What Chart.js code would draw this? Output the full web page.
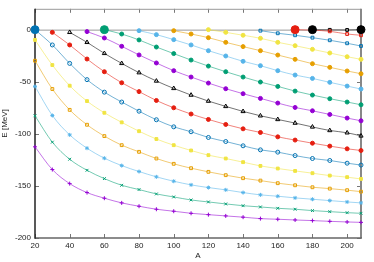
<!DOCTYPE html>
<html>
<head>
<meta charset="utf-8">
<script src="https://cdn.jsdelivr.net/npm/chart.js@4.4.1/dist/chart.umd.min.js"></script>
<style>
  html, body { margin: 0; padding: 0; background: #fff; }
</style>
</head>
<body>
<canvas id="chart" width="374" height="262"></canvas>
<script>
// mass numbers where levels were computed
const massNumbers = [20, 30, 40, 50, 60, 70, 80, 90, 100, 110, 120, 130, 140, 150, 160, 170, 180, 190, 200, 208];

// level energies (MeV), null where the level is not bound yet
const level1 = [-112.5, -134.3, -147.8, -156.4, -161.8, -166.3, -169.5, -172.4, -174.3, -176.3, -177.6, -178.8, -180, -181.4, -182, -182.7, -183.3, -184, -184.6, -185];
const level2 = [-82.7, -108, -124.4, -135, -143, -149.4, -153.5, -157.7, -160.6, -163.5, -165.4, -167.3, -169, -170.2, -171.5, -172.4, -173.7, -174.7, -175.7, -176.3];
const level3 = [-54.5, -82.4, -101, -113.8, -123.4, -130.5, -136.2, -141.3, -145.5, -149, -151.6, -153.8, -156.4, -158.6, -159.9, -161.5, -162.8, -164.1, -165.4, -166.3];
const level4 = [-29.8, -57, -77, -91.3, -102.2, -110.9, -117.3, -123.7, -128.8, -133, -136.5, -139.7, -142.6, -144.9, -147.4, -149.4, -151.3, -152.6, -154.1, -155.5];
const level5 = [-9.9, -34, -53.8, -68.6, -79.8, -89, -97.5, -105, -110.9, -116, -120.5, -123.7, -127.2, -130.8, -133.3, -135.6, -137.8, -140.1, -141.6, -143.3];
const level6 = [0, -14.7, -32.4, -48, -60, -69.5, -78.3, -86.5, -93.3, -98, -103.5, -107.4, -111.5, -115.4, -117.6, -120.9, -123.7, -125.6, -128.2, -130];
const level7 = [null, -2.6, -14.7, -28.2, -40.4, -51, -59.5, -68, -75, -81, -86.2, -91, -95.2, -98.7, -102.9, -106, -109, -111.8, -114.4, -116];
const level8 = [null, null, -2.6, -12.2, -22.8, -32.4, -41.3, -49.3, -56.4, -62.8, -68.6, -73.7, -78.5, -82.7, -86.2, -89.7, -93.4, -96.8, -99, -102];
const level9 = [null, null, null, -1.9, -8, -16, -24.3, -32, -39.4, -45.5, -51.3, -56.7, -61.5, -66, -70.5, -74.7, -77.9, -81.4, -84.9, -87.5];
const level10 = [null, null, null, null, 0, -4.2, -9.9, -16.7, -23, -29.2, -35, -40.4, -45.5, -50.3, -54.5, -59, -62.8, -66.3, -69.5, -72.1];
const level11 = [null, null, null, null, null, null, -1, -4.8, -9.6, -14.7, -20.2, -25.3, -30.4, -34.6, -39.4, -43.6, -46.8, -50.6, -54.2, -57];
const level12 = [null, null, null, null, null, null, null, null, -1, -4.2, -7.7, -12.2, -16.3, -20.2, -24.4, -28.5, -32.7, -36.2, -39.7, -42.3];
const level13 = [null, null, null, null, null, null, null, null, null, null, 0, -2.6, -5.4, -8.3, -12.2, -15.4, -18.9, -22.4, -26, -28.5];
const level14 = [null, null, null, null, null, null, null, null, null, null, null, null, null, -1, -3.5, -5.4, -7.7, -10.2, -13.1, -15.7];
const level15 = [null, null, null, null, null, null, null, null, null, null, null, null, null, null, null, 0, -0.5, -1.6, -4.2, -5.4];
const level16 = [null, null, null, null, null, null, null, null, null, null, null, null, null, null, null, null, 0, -0.2, -0.3, 0];

// new shell opening points
const openingA = [20, 60, 170, 180, 208];
const openingE = [0, 0, 0, 0, 0];

const xTicks = [20, 40, 60, 80, 100, 120, 140, 160, 180, 200];
const yTicks = [-200, -150, -100, -50, 0];

const palette = ['#9400D3', '#009E73', '#56B4E9', '#E69F00', '#F0E442', '#0072B2', '#E51E10', '#000000'];
const openingColors = ['#0072B2', '#009E73', '#E51E10', '#000000', '#000000'];

const levels = [level1, level2, level3, level4, level5, level6, level7, level8,
                level9, level10, level11, level12, level13, level14, level15, level16];
const styles = [
  ['cross', false], ['crossRot', false], ['star', false], ['rect', false],
  ['rect', true], ['circle', false], ['circle', true], ['triangle', false],
  ['circle', true], ['circle', true], ['circle', true], ['circle', true],
  ['circle', true], ['rect', false], ['rect', false], ['rect', false]
];

function fade(hex, a) {
  const n = parseInt(hex.slice(1), 16);
  return `rgba(${n >> 16},${(n >> 8) & 255},${n & 255},${a})`;
}

const datasets = [{
  data: openingA.map((a, i) => ({ x: a, y: openingE[i] })),
  showLine: false,
  pointStyle: 'circle',
  pointRadius: 4,
  pointBackgroundColor: openingColors,
  pointBorderColor: openingColors,
  clip: false,
}];

levels.forEach((vals, i) => {
  const col = palette[i % palette.length];
  const [shape, filled] = styles[i];
  datasets.push({
    data: massNumbers.map((a, j) => vals[j] === null ? null : { x: a, y: vals[j] }).filter(p => p),
    showLine: true,
    borderColor: fade(col, 0.55),
    borderWidth: 1,
    cubicInterpolationMode: 'monotone',
    pointStyle: shape,
    pointRadius: shape === 'triangle' ? 2.4 : 2,
    pointBorderWidth: 1,
    pointBorderColor: col,
    pointBackgroundColor: filled ? col : 'rgba(0,0,0,0)',
    clip: false,
  });
});

// gnuplot style frame: inward ticks on all four sides and a zero line
const framePlugin = {
  id: 'frame',
  beforeDatasetsDraw(chart) {
    const { ctx, chartArea: ca, scales: { x, y } } = chart;
    ctx.save();
    const y0 = y.getPixelForValue(0);
    ctx.strokeStyle = '#9a9a9a';
    ctx.lineWidth = 1;
    ctx.beginPath(); ctx.moveTo(ca.left, y0 + 0.5); ctx.lineTo(ca.right, y0 + 0.5); ctx.stroke();

    ctx.strokeStyle = '#777';
    ctx.lineWidth = 1;
    ctx.beginPath();
    xTicks.forEach(v => {
      const px = Math.round(x.getPixelForValue(v)) + 0.5;
      ctx.moveTo(px, ca.bottom); ctx.lineTo(px, ca.bottom - 4);
      ctx.moveTo(px, ca.top); ctx.lineTo(px, ca.top + 4);
    });
    yTicks.forEach(v => {
      const py = Math.round(y.getPixelForValue(v)) + 0.5;
      ctx.moveTo(ca.left, py); ctx.lineTo(ca.left + 4, py);
      ctx.moveTo(ca.right, py); ctx.lineTo(ca.right - 4, py);
    });
    ctx.stroke();

    ctx.strokeStyle = '#999';
    ctx.lineWidth = 1;
    ctx.beginPath(); ctx.moveTo(ca.left, ca.top + 0.5); ctx.lineTo(ca.right, ca.top + 0.5); ctx.stroke();
    ctx.strokeStyle = '#888';
    ctx.lineWidth = 2;
    ctx.beginPath(); ctx.moveTo(ca.right, ca.top); ctx.lineTo(ca.right, ca.bottom); ctx.stroke();
    ctx.strokeStyle = '#666';
    ctx.lineWidth = 1.5;
    ctx.beginPath(); ctx.moveTo(ca.left, ca.bottom); ctx.lineTo(ca.right + 1, ca.bottom); ctx.stroke();
    ctx.strokeStyle = '#222';
    ctx.lineWidth = 1.5;
    ctx.beginPath(); ctx.moveTo(ca.left, ca.top); ctx.lineTo(ca.left, ca.bottom + 0.75); ctx.stroke();
    ctx.restore();
  }
};

Chart.defaults.font.family = '"Liberation Sans", Arial, sans-serif';
Chart.defaults.font.size = 8;
Chart.defaults.color = '#222';

new Chart(document.getElementById('chart'), {
  type: 'scatter',
  data: { datasets },
  options: {
    responsive: false,
    animation: false,
    layout: { padding: { top: 8, right: 13, left: 0, bottom: 0 } },
    plugins: { legend: { display: false }, tooltip: { enabled: false } },
    scales: {
      x: {
        type: 'linear',
        min: 20,
        max: 208,
        afterFit: (s) => { s.height = 24; },
        afterBuildTicks: (s) => { s.ticks = xTicks.map(v => ({ value: v })); },
        grid: { display: false, drawTicks: false },
        border: { display: false },
        ticks: { padding: 3, maxRotation: 0, autoSkip: false },
        title: { display: true, text: 'A', padding: { top: 0, bottom: 1 }, font: { size: 8 } },
      },
      y: {
        type: 'linear',
        min: -200,
        max: 20,
        afterFit: (s) => { s.width = 35; },
        afterBuildTicks: (s) => { s.ticks = yTicks.map(v => ({ value: v })); },
        grid: { display: false, drawTicks: false },
        border: { display: false },
        ticks: { padding: 4, autoSkip: false },
        title: { display: true, text: 'E [MeV]', padding: { top: 0, bottom: 2 }, font: { size: 8 } },
      },
    },
  },
  plugins: [framePlugin],
});
</script>
</body>
</html>
